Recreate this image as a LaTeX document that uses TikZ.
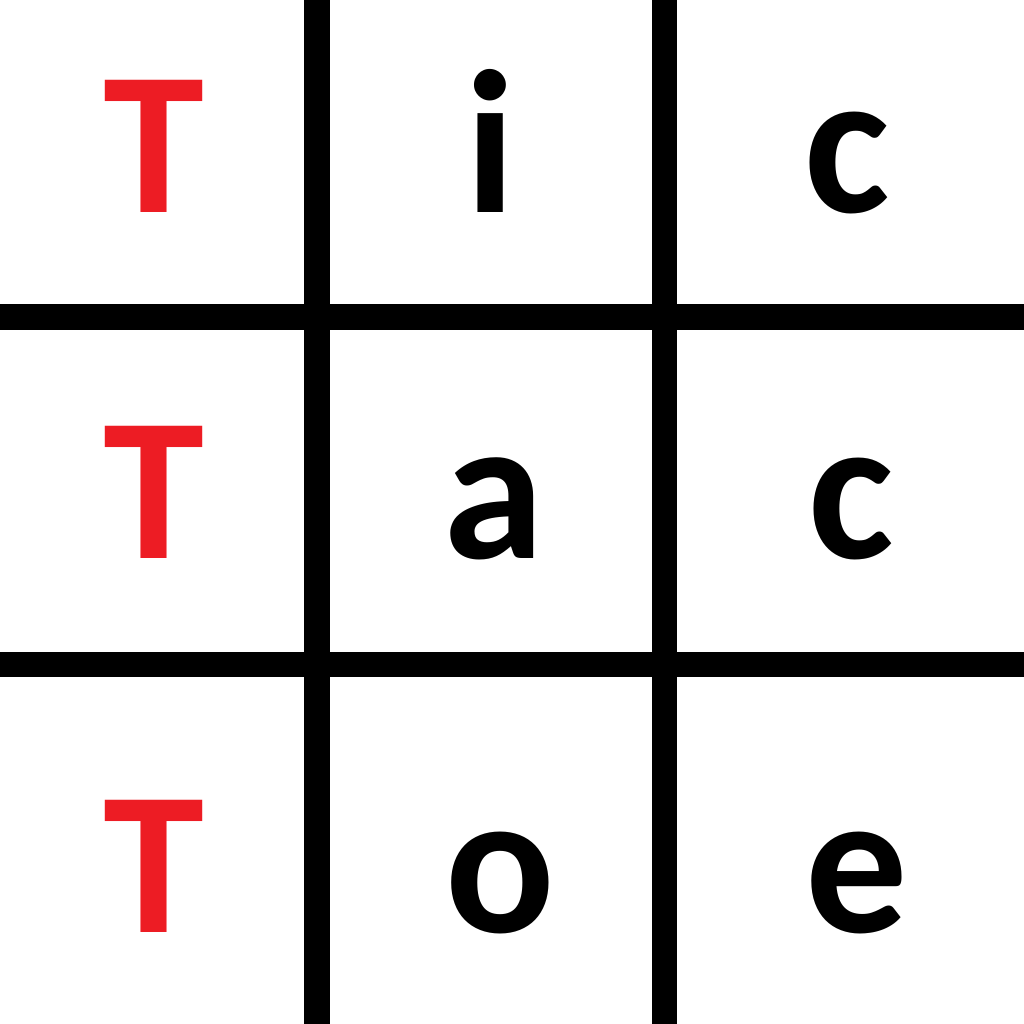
\documentclass[tikz,border=0pt]{standalone}
\usepackage{fontspec}
\setmainfont{Carlito}
\usepackage{xcolor}
\usetikzlibrary{positioning}
\definecolor{tred}{RGB}{237,28,36}
\tikzset{letter/.style={font=\fontsize{58}{58}\selectfont\bfseries, anchor=base, inner sep=0pt},
  gridline/.style={line width=0.25cm, black}}

\begin{document}
\begin{tikzpicture}[x=0.01cm,y=-0.01cm]
\useasboundingbox (0,0) rectangle (1024,1024);
% grid
\draw[gridline] (317,0) -- (317,1024);
\draw[gridline] (664,0) -- (664,1024);
\draw[gridline] (0,317) -- (1024,317);
\draw[gridline] (0,664) -- (1024,664);
% letters
\node[letter,tred] (t1) at (154,212) {T};
\node[letter] (i) at (491,212) {i};
\node[letter] (c1) at (847,212) {c};
\node[letter,tred] (t2) at (154,558) {T};
\node[letter] (a) at (494,558) {a};
\node[letter] (c2) at (851,558) {c};
\node[letter,tred] (t3) at (154,932) {T};
\node[letter] (o) at (500,932) {o};
\node[letter] (e) at (857,932) {e};
\end{tikzpicture}
\end{document}
